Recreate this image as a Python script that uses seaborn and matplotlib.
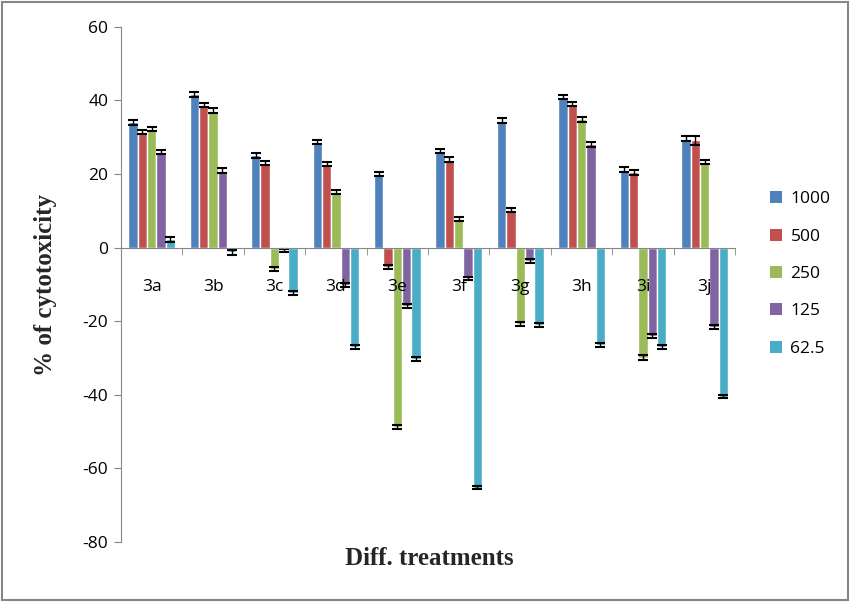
import numpy as np
import pandas as pd
import matplotlib
matplotlib.use("Agg")
import matplotlib.pyplot as plt
import seaborn as sns
from matplotlib.patches import Rectangle, Patch
from matplotlib.ticker import FixedLocator

categories = ["3a", "3b", "3c", "3d", "3e", "3f", "3g", "3h", "3i", "3j"]
concentrations = ["1000", "500", "250", "125", "62.5"]

v1000 = [34.0, 41.6, 25.0, 28.7, 20.0, 26.3, 34.5, 40.9, 21.1, 29.6]
v500 = [31.4, 38.7, 22.9, 22.6, -5.3, 23.9, 10.2, 39.0, 20.4, 29.1]
v250 = [32.2, 37.2, -5.9, 15.0, -48.7, 7.7, -20.8, 34.8, -29.9, 23.3]
v125 = [25.9, 20.9, -0.8, -10.2, -15.9, -8.4, -3.7, 28.0, -24.1, -21.6]
v62 = [2.2, -1.3, -12.4, -27.1, -30.3, -65.2, -21.1, -26.5, -27.1, -40.5]

e1000 = [0.6, 0.6, 0.6, 0.6, 0.6, 0.6, 0.6, 0.5, 0.7, 0.6]
e500 = [0.5, 0.5, 0.6, 0.5, 0.6, 0.6, 0.5, 0.5, 0.6, 1.2]
e250 = [0.5, 0.6, 0.6, 0.5, 0.6, 0.6, 0.6, 0.6, 0.7, 0.6]
e125 = [0.6, 0.6, 0.5, 0.6, 0.6, 0.5, 0.6, 0.6, 0.6, 0.6]
e62 = [0.6, 0.7, 0.6, 0.6, 0.6, 0.5, 0.6, 0.6, 0.6, 0.5]

colors = ["#4F81BD", "#C0504D", "#9BBB59", "#8064A2", "#4BACC6"]
grey = "#868686"

values = [v1000, v500, v250, v125, v62]
errors = [e1000, e500, e250, e125, e62]

rows = []
for c, vals, errs in zip(concentrations, values, errors):
    for cat, v, e in zip(categories, vals, errs):
        rows.append({"treatment": cat, "conc": c, "value": v, "err": e})
df = pd.DataFrame(rows)

sns.set_style("white")
plt.rcParams["font.family"] = ["Open Sans", "DejaVu Sans"]
plt.rcParams["axes.unicode_minus"] = False

fig = plt.figure(figsize=(8.51, 6.02), dpi=100)
ax = fig.add_axes([0.142, 0.0997, 0.722, 0.856])

sns.barplot(data=df, x="treatment", y="value", hue="conc",
            order=categories, hue_order=concentrations,
            palette=colors, errorbar=None, width=0.76, gap=0,
            saturation=1, ax=ax, legend=False)

for cont, errs in zip(ax.containers, errors):
    xs = [p.get_x() + p.get_width() / 2 for p in cont.patches]
    ys = [p.get_height() for p in cont.patches]
    ax.errorbar(xs, ys, yerr=errs, fmt="none", ecolor="black",
                elinewidth=1.0, capsize=3.4, capthick=1.5, zorder=5)

ax.set_axisbelow(False)
ax.set_ylim(-80, 60)
ax.set_xlim(-0.5, 9.5)
ax.set_yticks(np.arange(-80, 61, 20))
ax.tick_params(axis="y", direction="out", length=5, color=grey,
               labelsize=12.5, pad=4, left=True, labelcolor="black")

ax.spines["top"].set_visible(False)
ax.spines["right"].set_visible(False)
ax.spines["left"].set_color(grey)
ax.spines["bottom"].set_color(grey)
ax.spines["bottom"].set_position(("data", 0))
ax.spines["bottom"].set_zorder(6)

ax.xaxis.set_minor_locator(FixedLocator(np.arange(-0.5, 10, 1)))
ax.tick_params(axis="x", which="major", length=0, labelsize=12.5, pad=23,
               labelcolor="black")
ax.tick_params(axis="x", which="minor", direction="out", length=5,
               color=grey, bottom=True)
ax.xaxis.set_zorder(7)

ax.set_xlabel("")
ax.set_ylabel("")
fig.text(0.053, 0.527, "% of cytotoxicity", rotation=90, ha="center",
         va="center", fontsize=18, fontweight="bold",
         family="Liberation Serif")
fig.text(0.505, 0.073, "Diff. treatments", ha="center", va="center",
         fontsize=18, fontweight="bold", family="Liberation Serif")

handles = [Patch(facecolor=c, edgecolor="none") for c in colors]
fig.legend(handles, concentrations, loc="center left",
           bbox_to_anchor=(0.886, 0.545), frameon=False, fontsize=12.5,
           handlelength=0.7, handleheight=0.7, labelspacing=1.22,
           handletextpad=0.5, labelcolor="black")

fig.patches.append(Rectangle((0.002, 0.003), 0.995, 0.994,
                             transform=fig.transFigure, fill=False,
                             edgecolor=grey, linewidth=1.5))

fig.savefig("out.png", dpi=100)
